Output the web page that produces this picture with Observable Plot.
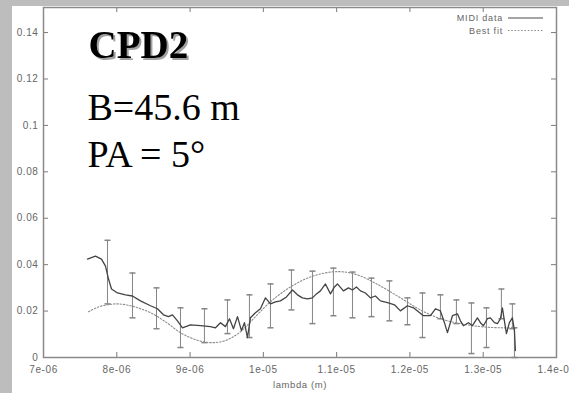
<!DOCTYPE html>
<html>
<head>
<meta charset="utf-8">
<script src="https://cdn.jsdelivr.net/npm/d3@7"></script>
<script src="https://cdn.jsdelivr.net/npm/@observablehq/plot@0.6"></script>
<style>
  body { margin: 0; background: #bdbdbd; }
  #page { position: relative; width: 569px; height: 393px; overflow: hidden; }
  #chart { position: absolute; left: 12px; top: 6px; width: 557px; height: 387px; background: #fff; }
  #legend { position: absolute; left: 430px; top: 8px; }
  .shadowed text { filter: drop-shadow(2px 2px 0.6px #a0a0a0); }
  #chart svg text { letter-spacing: 0.6px; }
  #chart svg .big text { letter-spacing: 0; }
</style>
</head>
<body>
<div id="page">
  <div id="chart"></div>
  <svg id="legend" width="125" height="32"></svg>
</div>
<script>
// ---- data (lambda in metres, visibility) ----
const midiLambda = [7.600e-6,7.709e-6,7.791e-6,7.846e-6,7.887e-6,7.928e-6,8.010e-6,8.119e-6,8.214e-6,8.323e-6,8.460e-6,8.555e-6,8.637e-6,8.705e-6,8.760e-6,8.828e-6,8.896e-6,9.005e-6,9.142e-6,9.278e-6,9.347e-6,9.415e-6,9.483e-6,9.538e-6,9.592e-6,9.647e-6,9.701e-6,9.742e-6,9.783e-6,9.824e-6,9.892e-6,9.960e-6,10.029e-6,10.097e-6,10.165e-6,10.233e-6,10.315e-6,10.397e-6,10.465e-6,10.533e-6,10.602e-6,10.670e-6,10.724e-6,10.779e-6,10.847e-6,10.916e-6,10.970e-6,11.011e-6,11.093e-6,11.161e-6,11.216e-6,11.270e-6,11.325e-6,11.393e-6,11.461e-6,11.529e-6,11.598e-6,11.707e-6,11.789e-6,11.870e-6,11.966e-6,12.048e-6,12.116e-6,12.184e-6,12.280e-6,12.348e-6,12.416e-6,12.471e-6,12.512e-6,12.580e-6,12.648e-6,12.689e-6,12.730e-6,12.798e-6,12.853e-6,12.921e-6,12.962e-6,13.003e-6,13.057e-6,13.098e-6,13.153e-6,13.194e-6,13.235e-6,13.262e-6,13.289e-6,13.317e-6,13.357e-6,13.398e-6,13.426e-6,13.439e-6];
const midiValue = [0.0424,0.0437,0.0424,0.0394,0.0338,0.0295,0.0278,0.0270,0.0265,0.0244,0.0223,0.0210,0.0184,0.0176,0.0184,0.0158,0.0128,0.0141,0.0137,0.0133,0.0128,0.0150,0.0133,0.0167,0.0124,0.0176,0.0116,0.0150,0.0086,0.0171,0.0193,0.0210,0.0257,0.0231,0.0240,0.0244,0.0261,0.0291,0.0270,0.0257,0.0253,0.0257,0.0274,0.0287,0.0317,0.0274,0.0304,0.0317,0.0287,0.0300,0.0291,0.0304,0.0287,0.0278,0.0257,0.0265,0.0244,0.0235,0.0227,0.0201,0.0223,0.0214,0.0197,0.0180,0.0180,0.0210,0.0201,0.0150,0.0107,0.0180,0.0188,0.0158,0.0137,0.0150,0.0137,0.0171,0.0150,0.0137,0.0167,0.0171,0.0150,0.0146,0.0167,0.0214,0.0158,0.0103,0.0150,0.0171,0.0116,0.0030];

const fitLambda = [7.614e-6,7.750e-6,7.873e-6,8.010e-6,8.187e-6,8.323e-6,8.460e-6,8.664e-6,8.869e-6,9.074e-6,9.278e-6,9.483e-6,9.688e-6,9.892e-6,10.097e-6,10.370e-6,10.643e-6,10.916e-6,11.120e-6,11.325e-6,11.598e-6,11.870e-6,12.143e-6,12.416e-6,12.689e-6,12.962e-6,13.235e-6,13.426e-6];
const fitValue = [0.0197,0.0218,0.0227,0.0231,0.0223,0.0210,0.0193,0.0154,0.0107,0.0077,0.0064,0.0073,0.0111,0.0176,0.0240,0.0304,0.0347,0.0368,0.0368,0.0351,0.0308,0.0257,0.0205,0.0167,0.0146,0.0133,0.0128,0.0128];

const errLambda = [7.873e-6,8.214e-6,8.542e-6,8.869e-6,9.196e-6,9.510e-6,9.810e-6,10.097e-6,10.383e-6,10.670e-6,10.956e-6,11.216e-6,11.475e-6,11.720e-6,11.966e-6,12.171e-6,12.416e-6,12.634e-6,12.839e-6,13.044e-6,13.248e-6,13.398e-6,13.426e-6];
const errHigh = [0.0505,0.0364,0.0300,0.0214,0.0210,0.0248,0.0270,0.0317,0.0377,0.0372,0.0385,0.0368,0.0342,0.0330,0.0257,0.0278,0.0270,0.0248,0.0235,0.0214,0.0295,0.0231,0.0128];
const errLow = [0.0231,0.0171,0.0124,0.0043,0.0064,0.0103,0.0086,0.0128,0.0205,0.0146,0.0180,0.0171,0.0176,0.0158,0.0141,0.0086,0.0167,0.0146,0.0017,0.0043,0.0167,0.0124,0.0000];

const xTicks = [7e-6,8e-6,9e-6,1e-5,1.1e-5,1.2e-5,1.3e-5,1.4e-5];
const xTickLabels = ["7e-06","8e-06","9e-06","1e-05","1.1e-05","1.2e-05","1.3e-05","1.4e-05"];
const yTicks = [0,0.02,0.04,0.06,0.08,0.1,0.12,0.14];
const yTickLabels = ["0","0.02","0.04","0.06","0.08","0.1","0.12","0.14"];
const xLabel = "lambda (m)";
const seriesNames = ["MIDI data","Best fit"];
const titleText = "CPD2";
const infoLines = ["B=45.6 m","PA = 5°"];

// ---- build tables ----
const midi = midiLambda.map((x,i)=>({x, y: midiValue[i]}));
const fit = fitLambda.map((x,i)=>({x, y: fitValue[i]}));
const err = errLambda.map((x,i)=>({x, hi: errHigh[i], lo: errLow[i]}));
const xFmt = new Map(xTicks.map((t,i)=>[t, xTickLabels[i]]));
const yFmt = new Map(yTicks.map((t,i)=>[t, yTickLabels[i]]));

const W = 557, H = 387, mL = 31, mR = 13, mT = 1, mB = 36;
const fW = W - mL - mR, fH = H - mT - mB;
const capSymbol = { draw(ctx, size) { const r = Math.sqrt(size / Math.PI); ctx.moveTo(-r, 0); ctx.lineTo(r, 0); } };
const tickCol = "#7a7a7a", labelCol = "#666";
const serif = "'Liberation Serif','Times New Roman',serif";

const chart = Plot.plot({
  width: W, height: H,
  marginLeft: mL, marginRight: mR, marginTop: mT, marginBottom: mB,
  style: { background: "#fff", fontFamily: "'Liberation Sans', Arial, sans-serif", overflow: "visible" },
  x: { domain: [7e-6, 1.4e-5] },
  y: { domain: [0, 0.1508] },
  marks: [
    Plot.axisY(yTicks, { tickSize: 0, tickPadding: 5, tickFormat: d => yFmt.get(d), fontSize: 10, fill: labelCol, label: null }),
    Plot.axisX(xTicks, { tickSize: 0, tickPadding: 8, tickFormat: d => xFmt.get(d), fontSize: 10, fill: labelCol, label: null }),
    Plot.tickY(yTicks, { y: d => d, insetRight: fW - 5, stroke: tickCol }),
    Plot.tickY(yTicks, { y: d => d, insetLeft: fW - 5, stroke: tickCol }),
    Plot.tickX(xTicks, { x: d => d, insetTop: fH - 5, stroke: tickCol }),
    Plot.tickX(xTicks, { x: d => d, insetBottom: fH - 5, stroke: tickCol }),
    Plot.frame({ stroke: "#8a8a8a", strokeWidth: 1.5 }),
    Plot.text([xLabel], { frameAnchor: "bottom", dy: 30, fontSize: 9.5, fill: labelCol }),
    Plot.ruleX(err, { x: "x", y1: "lo", y2: "hi", stroke: "#858585", strokeWidth: 1 }),
    Plot.dot(err, { x: "x", y: "hi", symbol: capSymbol, r: 3, stroke: "#858585", fill: "none" }),
    Plot.dot(err, { x: "x", y: "lo", symbol: capSymbol, r: 3, stroke: "#858585", fill: "none" }),
    Plot.line(fit, { x: "x", y: "y", stroke: "#8c8c8c", strokeWidth: 1.1, strokeDasharray: "1.5,1.8", curve: "catmull-rom" }),
    Plot.line(midi, { x: "x", y: "y", stroke: "#444", strokeWidth: 1.3 }),
    Plot.text([titleText], { className: "shadowed big", frameAnchor: "top-left", dx: 45, dy: 50, lineAnchor: "bottom", textAnchor: "start", fontSize: 39, fontWeight: "bold", fontFamily: serif, fill: "#000" }),
    Plot.text([infoLines[0]], { className: "big", frameAnchor: "top-left", dx: 44, dy: 112, lineAnchor: "bottom", textAnchor: "start", fontSize: 38, fontFamily: serif, fill: "#000" }),
    Plot.text([infoLines[1]], { className: "big", frameAnchor: "top-left", dx: 44, dy: 159, lineAnchor: "bottom", textAnchor: "start", fontSize: 38, fontFamily: serif, fill: "#000" })
  ]
});
document.getElementById("chart").appendChild(chart);

// ---- legend (page coords: left 430, top 8) ----
const lg = d3.select("#legend");
const rows = [{ name: seriesNames[0], dash: null, color: "#4a4a4a" }, { name: seriesNames[1], dash: "1.5,1.8", color: "#888" }];
rows.forEach((r, i) => {
  const cy = 10 + i * 12.5;
  lg.append("text").attr("x", 73).attr("y", cy).attr("dy", "0.35em").attr("text-anchor", "end")
    .attr("font-family", "'Liberation Sans', Arial, sans-serif").attr("font-size", 9).attr("letter-spacing", "0.8px")
    .attr("fill", labelCol).text(r.name);
  lg.append("line").attr("x1", 78).attr("x2", 113).attr("y1", cy).attr("y2", cy)
    .attr("stroke", r.color).attr("stroke-width", 1).attr("stroke-dasharray", r.dash);
});
</script>
</body>
</html>
